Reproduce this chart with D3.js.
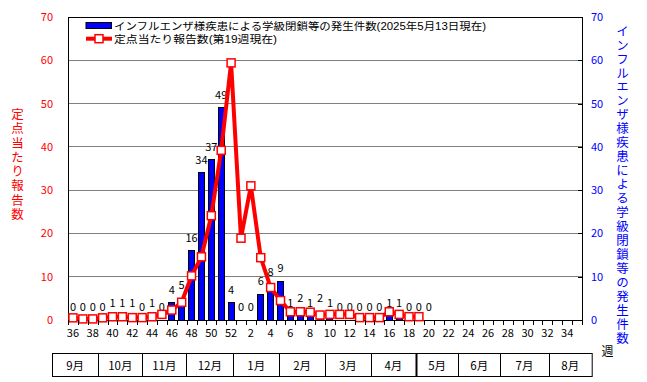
<!DOCTYPE html>
<html><head><meta charset="utf-8">
<script src="https://cdn.jsdelivr.net/npm/d3@7"></script>
<style>
html,body{margin:0;padding:0;background:#fff;}
svg{display:block;font-family:"Noto Sans CJK JP","Liberation Sans",sans-serif;}
.leg{font-family:"Liberation Sans","Noto Sans CJK JP",sans-serif;}
</style></head>
<body>
<script>
// ---- data ----
const weeks = [36,37,38,39,40,41,42,43,44,45,46,47,48,49,50,51,52,
  1,2,3,4,5,6,7,8,9,10,11,12,13,14,15,16,17,18,19,20,21,22,23,24,25,26,27,28,29,30,31,32,33,34,35];
// 学級閉鎖等の発生件数 (weeks 36 .. 20)
const closures = [0,0,0,0,1,1,1,0,1,0,4,5,16,34,37,49,4,
  0,0,6,8,9,1,2,1,2,1,0,0,0,0,0,1,1,0,0,0];
// 定点当たり報告数 (weeks 36 .. 19)
const perSentinel = [0.5,0.25,0.25,0.5,0.75,0.75,0.55,0.55,0.75,1.3,2.3,4.1,10.2,14.6,24.1,39.2,59.4,
  18.9,31.0,14.4,7.5,4.5,1.9,1.9,1.8,1.15,1.3,1.3,1.3,0.55,0.55,0.55,1.9,1.3,0.77,0.77];
const xTickWeeks = [36,38,40,42,44,46,48,50,52,2,4,6,8,10,12,14,16,18,20,22,24,26,28,30,32,34];
const yTicks = [0,10,20,30,40,50,60,70];
const months = ["9月","10月","11月","12月","1月","2月","3月","4月","5月","6月","7月","8月"];
const legend1 = "インフルエンザ様疾患による学級閉鎖等の発生件数(2025年5月13日現在)";
const legend2 = "定点当たり報告数(第19週現在)";
const leftTitle = "定点当たり報告数";
const rightTitle = "インフルエンザ様疾患による学級閉鎖等の発生件数";
const weekLabel = "週";

// ---- layout ----
const W = 647, H = 382;
const L = 68, R = 582, T = 17, B = 320;
// month table edges (in units along the table, proportional widths)
const monthEdgeUnits = [0,46.3,90.3,134.3,181.3,227.3,273,318.7,364,406.3,448.3,496.7,539.7];
const tableX0 = 52, tableY0 = 353.5, tableY1 = 376.5;

const svg = d3.select("body").append("svg").attr("width", W).attr("height", H);

const x = d3.scaleBand().domain(weeks).range([L, R]).padding(0);
const y = d3.scaleLinear().domain([0, 70]).range([B, T]);
const yR = d3.scaleLinear().domain([0, 70]).range([B, T]);

// gridlines
svg.append("g").selectAll("line").data(yTicks.filter(d => d > 0 && d < 70)).join("line")
  .attr("x1", L).attr("x2", R).attr("y1", d => y(d)).attr("y2", d => y(d))
  .attr("stroke", "#808080").attr("stroke-width", 1).attr("shape-rendering", "crispEdges");

// bars
const barW = 6;
svg.append("g").selectAll("rect").data(closures.map((v, i) => ({w: weeks[i], v}))).join("rect")
  .filter(d => d.v > 0)
  .attr("x", d => x(d.w) + x.bandwidth() / 2 - barW / 2)
  .attr("y", d => yR(d.v))
  .attr("width", barW)
  .attr("height", d => yR(0) - yR(d.v))
  .attr("fill", "#0000ff").attr("stroke", "#000").attr("stroke-width", 1)
  .attr("shape-rendering", "crispEdges");

// plot frame
svg.append("rect").attr("x", L).attr("y", T).attr("width", R - L).attr("height", B - T)
  .attr("fill", "none").attr("stroke", "#000").attr("stroke-width", 1).attr("shape-rendering", "crispEdges");

// bar data labels
svg.append("g").selectAll("text").data(closures.map((v, i) => ({w: weeks[i], v}))).join("text")
  .attr("x", d => x(d.w) + x.bandwidth() / 2)
  .attr("y", d => yR(d.v) - 9)
  .attr("text-anchor", "middle").attr("font-size", 11).attr("fill", "#000")
  .text(d => d.v);

// line
const linePts = perSentinel.map((v, i) => ({w: weeks[i], v}));
const line = d3.line().x(d => x(d.w) + x.bandwidth() / 2).y(d => y(d.v));
svg.append("path").datum(linePts).attr("d", line)
  .attr("fill", "none").attr("stroke", "#ff0000").attr("stroke-width", 4).attr("stroke-linejoin", "miter");
const mk = 8;
svg.append("g").selectAll("rect").data(linePts).join("rect")
  .attr("x", d => x(d.w) + x.bandwidth() / 2 - mk / 2)
  .attr("y", d => y(d.v) - mk / 2)
  .attr("width", mk).attr("height", mk)
  .attr("fill", "#fff").attr("stroke", "#ff0000").attr("stroke-width", 1.5);

// x axis ticks at band boundaries
const bounds = weeks.map(w => x(w)).concat([R]);
svg.append("g").selectAll("line").data(bounds).join("line")
  .attr("x1", d => Math.round(d) + 0.5).attr("x2", d => Math.round(d) + 0.5)
  .attr("y1", B).attr("y2", B + 5).attr("stroke", "#000");
svg.append("g").selectAll("text").data(xTickWeeks).join("text")
  .attr("x", d => x(d) + x.bandwidth() / 2).attr("y", B + 17)
  .attr("text-anchor", "middle").attr("font-size", 11).attr("fill", "#000")
  .text(d => d);

// left y axis labels
svg.append("g").selectAll("text").data(yTicks).join("text")
  .attr("x", 53).attr("y", d => y(d) + 4)
  .attr("text-anchor", "end").attr("font-size", 11).attr("fill", "#ff0000")
  .text(d => d);
// right y axis ticks and labels
svg.append("g").selectAll("line").data(yTicks).join("line")
  .attr("x1", R - 4).attr("x2", R).attr("y1", d => Math.round(yR(d)) + 0.5).attr("y2", d => Math.round(yR(d)) + 0.5)
  .attr("stroke", "#000");
svg.append("g").selectAll("text").data(yTicks).join("text")
  .attr("x", 591).attr("y", d => yR(d) + 4)
  .attr("text-anchor", "start").attr("font-size", 11).attr("fill", "#0000ff")
  .text(d => d);

// axis titles (vertical writing mode, single text each)
function vtext(str, cx, yTop, step, color) {
  const fs = 12.5;
  svg.append("text")
    .attr("x", cx).attr("y", yTop)
    .style("writing-mode", "vertical-rl")
    .style("glyph-orientation-vertical", "0")
    .attr("font-size", fs)
    .attr("letter-spacing", step - fs)
    .attr("fill", color)
    .text(str);
}
vtext(leftTitle, 17.5, 115 - 7, 14.3, "#ff0000");
vtext(rightTitle, 622.5, 31.7 - 7, 13.95, "#0000ff");

// week label
svg.append("text").attr("x", 607.5).attr("y", 356).attr("text-anchor", "middle")
  .attr("font-size", 12).attr("fill", "#000").text(weekLabel);

// legend
svg.append("rect").attr("x", 86).attr("y", 22.5).attr("width", 25.5).attr("height", 6)
  .attr("fill", "#0000ff").attr("stroke", "#000").attr("stroke-width", 1);
svg.append("text").attr("class", "leg").attr("x", 114).attr("y", 29.5).attr("font-size", 10.5).attr("fill", "#000")
  .attr("textLength", 372).attr("lengthAdjust", "spacingAndGlyphs").text(legend1);
svg.append("line").attr("x1", 86).attr("x2", 112).attr("y1", 38.7).attr("y2", 38.7)
  .attr("stroke", "#ff0000").attr("stroke-width", 4);
svg.append("rect").attr("x", 99 - mk / 2).attr("y", 38.7 - mk / 2).attr("width", mk).attr("height", mk)
  .attr("fill", "#fff").attr("stroke", "#ff0000").attr("stroke-width", 1.5);
svg.append("text").attr("class", "leg").attr("x", 114).attr("y", 42.5).attr("font-size", 10.5).attr("fill", "#000")
  .attr("textLength", 163).attr("lengthAdjust", "spacingAndGlyphs").text(legend2);

// month table
const mx = d3.scaleLinear().domain([0, monthEdgeUnits[monthEdgeUnits.length - 1]])
  .range([tableX0, tableX0 + monthEdgeUnits[monthEdgeUnits.length - 1]]);
const tg = svg.append("g");
tg.append("rect").attr("x", mx(0) + 0.5).attr("y", tableY0)
  .attr("width", mx(monthEdgeUnits[12]) - mx(0)).attr("height", tableY1 - tableY0)
  .attr("fill", "none").attr("stroke", "#000");
tg.selectAll("line").data(monthEdgeUnits.slice(1, -1)).join("line")
  .attr("x1", d => Math.round(mx(d)) + 0.5).attr("x2", d => Math.round(mx(d)) + 0.5)
  .attr("y1", tableY0).attr("y2", tableY1)
  .attr("stroke", "#000").attr("stroke-width", (d, i) => months[i + 1] === "5月" ? 2 : 1);
tg.selectAll("text").data(months).join("text")
  .attr("x", (d, i) => (mx(monthEdgeUnits[i]) + mx(monthEdgeUnits[i + 1])) / 2)
  .attr("y", (tableY0 + tableY1) / 2 + 4.5)
  .attr("text-anchor", "middle").attr("font-size", 11.5).attr("fill", "#000")
  .text(d => d);
</script>
</body></html>
